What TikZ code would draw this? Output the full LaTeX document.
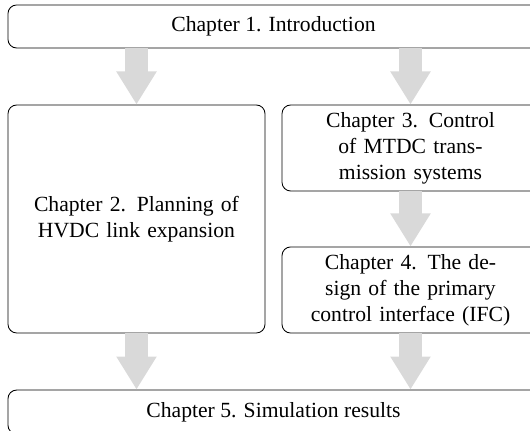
\documentclass[tikz,border=0pt]{standalone}
\usepackage{fontspec}
\setmainfont{Liberation Serif}
\usetikzlibrary{positioning,arrows.meta}

\begin{document}
\begin{tikzpicture}[x=0.4623pt, y=-0.4623pt,
  chapbox/.style={draw, rounded corners, align=center},
  flowarrow/.style={gray!30, line width=10.6pt, -{Triangle[width=17.6pt,length=15.3pt]}}]
  % Fix the page size
  \useasboundingbox (0,0) rectangle (530,431);
  % Draw the chapter boxes
  \node[chapbox, minimum width=245.5pt, minimum height=19.9pt] (intro) at (273.5,26.5) {Chapter 1. Introduction};
  \node[chapbox, text width=100pt, minimum width=118.8pt, minimum height=105.4pt] (plan) at (136.5,219) {Chapter 2. Planning of HVDC link expansion};
  \node[chapbox, text width=100pt, minimum width=118.8pt, minimum height=38.8pt] (ctrl) at (410.5,148) {Chapter 3. Control of MTDC transmission systems};
  \node[chapbox, text width=100pt, minimum width=118.8pt, minimum height=39.8pt] (ifc) at (410.5,290) {Chapter 4. The de-\\sign of the primary\\control interface (IFC)};
  \node[chapbox, minimum width=245.5pt, minimum height=20.3pt] (sim) at (273.5,412) {Chapter 5. Simulation results};
  % Draw the arrows between the chapters
  \draw[flowarrow] (intro.south -| plan.north) -- (plan.north);
  \draw[flowarrow] (intro.south -| ctrl.north) -- (ctrl.north);
  \draw[flowarrow] (ctrl.south) -- (ifc.north);
  \draw[flowarrow] (plan.south) -- (plan.south |- sim.north);
  \draw[flowarrow] (ifc.south) -- (ifc.south |- sim.north);
\end{tikzpicture}
\end{document}
